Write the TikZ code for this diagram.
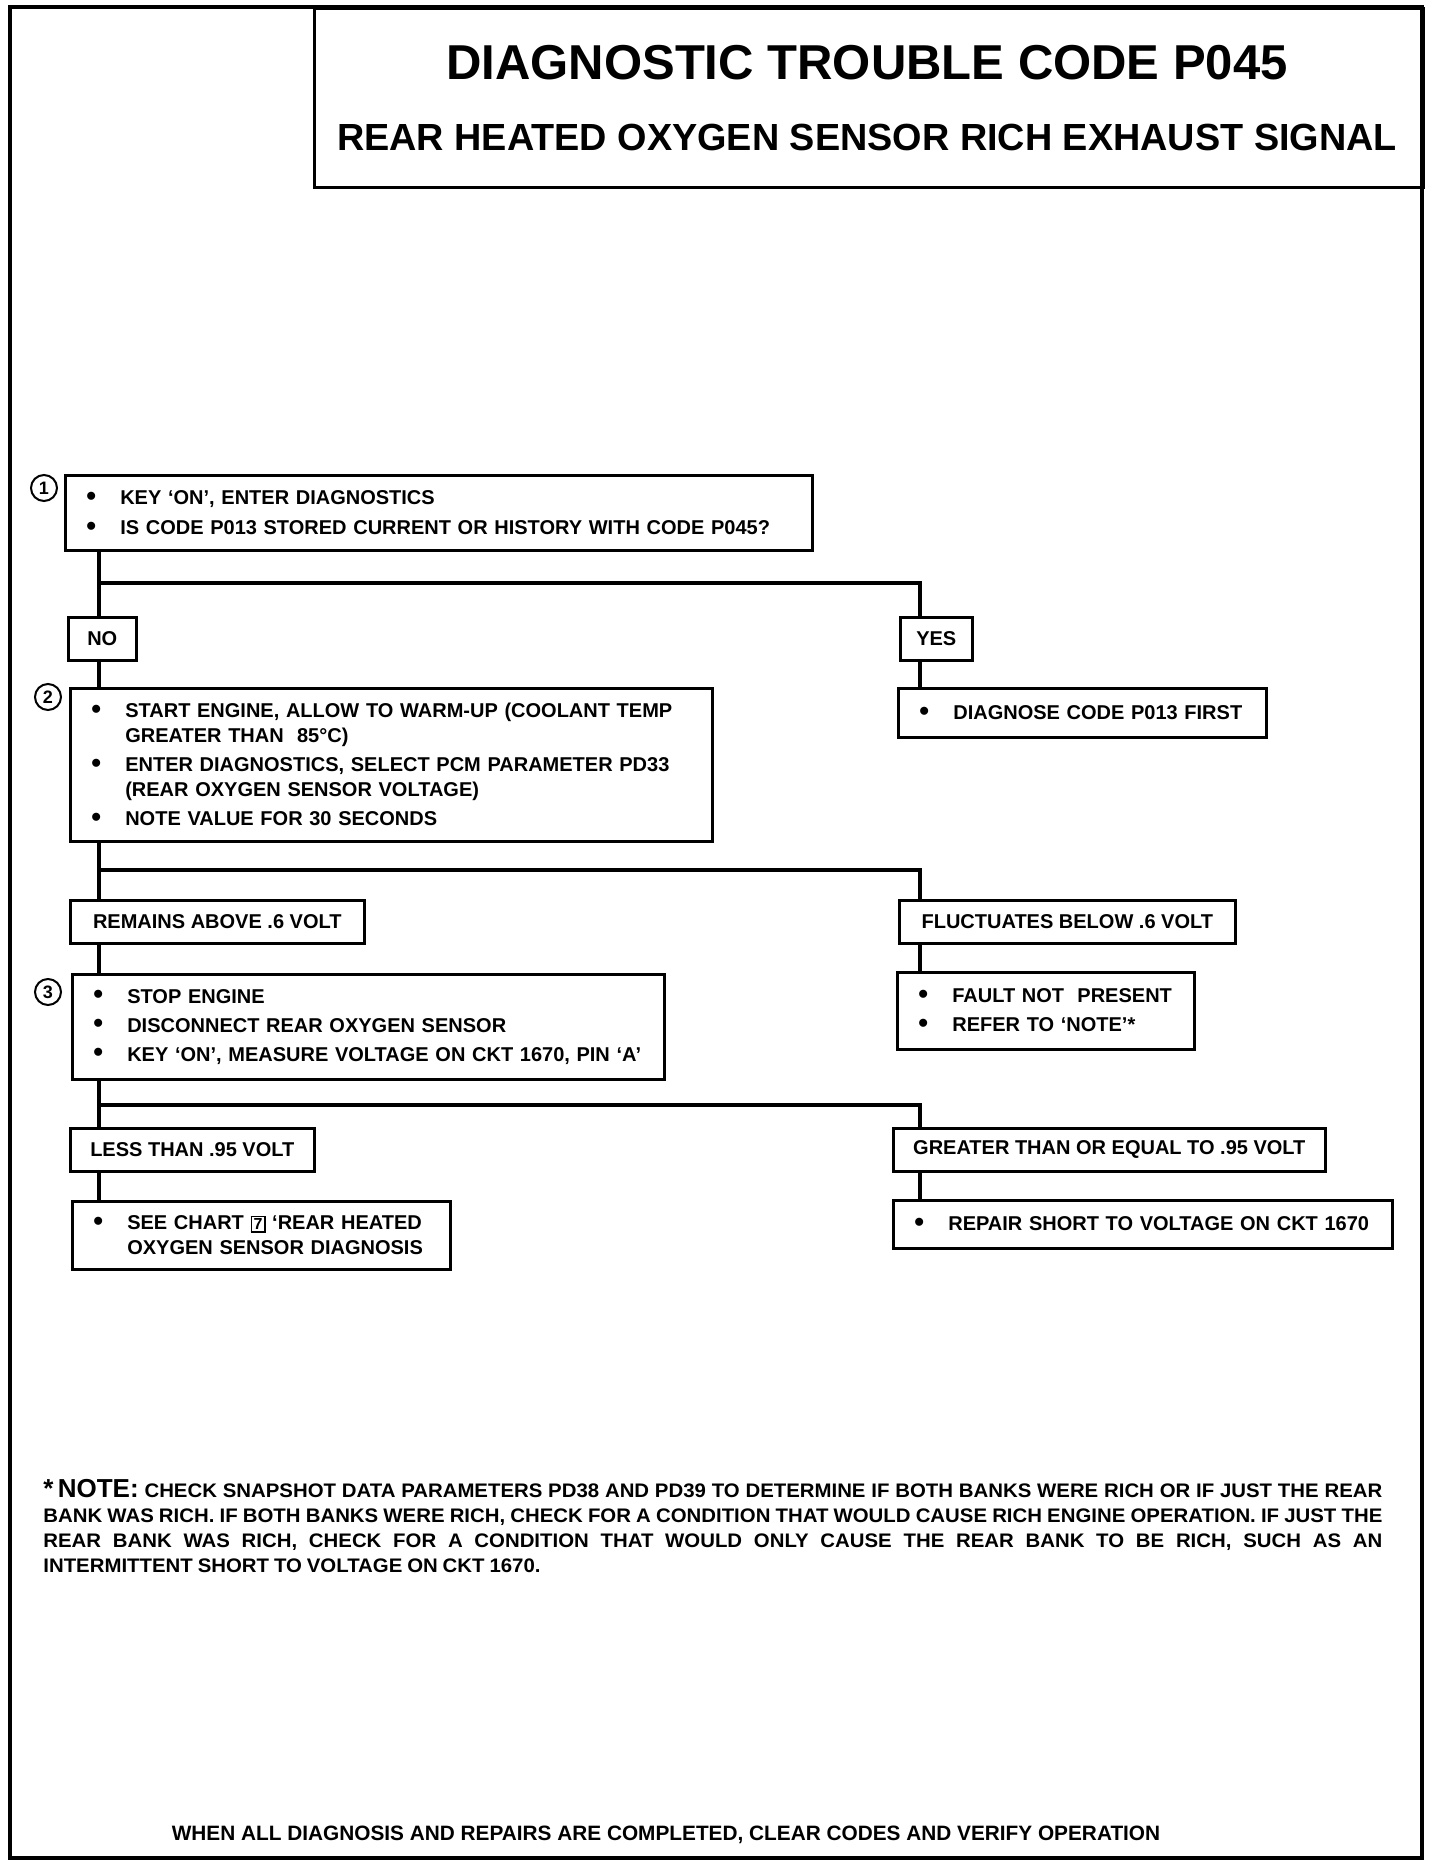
\documentclass[tikz,border=0pt]{standalone}
\usepackage{fontspec}
\setmainfont{Liberation Sans}
\newfontfamily\notefont{Liberation Sans}[FakeStretch=1.04]
\usetikzlibrary{positioning,calc}
\newcommand{\bul}{\makebox[17pt][l]{\raisebox{-0.3pt}{\fontsize{14}{10}\selectfont\textbullet}}}
\newcommand{\hang}{\hspace*{17pt}}
\newcommand{\chartref}[1]{{\setlength{\fboxsep}{0.8pt}\setlength{\fboxrule}{0.7pt}\fbox{\fontsize{8}{8}\selectfont #1}}}

\begin{document}
\begin{tikzpicture}[
  x=0.5pt, y=-0.5pt,
  font=\bfseries\fontsize{10}{12.5}\selectfont,
  frame/.style={line width=1.6pt},
  stepbox/.style={draw, line width=1.3pt, anchor=north west, align=left, inner xsep=10.5pt, inner ysep=0pt},
  lblbox/.style={draw, line width=1.3pt, anchor=north west, minimum height=21.5pt, inner sep=0pt, align=center},
  num/.style={draw, circle, line width=1pt, minimum size=13pt, inner sep=0pt, font=\bfseries\fontsize{9}{9}\selectfont},
  link/.style={line width=2.2pt}
]
\useasboundingbox (0,0) rectangle (1440,1868);
\draw[frame] (10,7) rectangle (1422,1858);

% header
\node[draw, frame, anchor=north west, minimum width=554.5pt, minimum height=89.5pt] (hdr) at (313,7) {};
\node[font=\bfseries\fontsize{24.5}{26}\selectfont] (title) at (867,63) {DIAGNOSTIC TROUBLE CODE P045};
\node[font=\bfseries\fontsize{18.9}{20}\selectfont] (subtitle) at (867,137) {REAR HEATED OXYGEN SENSOR RICH EXHAUST SIGNAL};

% step 1
\node[num] (n1) at (44,488) {1};
\node[stepbox, text width=352.5pt, minimum height=37.5pt] (chk1) at (64,474)
  {\bul KEY `ON', ENTER DIAGNOSTICS\\[2.5pt]
   \bul IS CODE P013 STORED CURRENT OR HISTORY WITH CODE P045?};
\node[lblbox, minimum width=34pt] (no) at (67,616) {NO};
\node[lblbox, minimum width=36pt] (yes) at (899,616) {YES};

% step 2
\node[num] (n2) at (48,697) {2};
\node[stepbox, text width=300pt, minimum height=76.5pt] (chk2) at (69,687)
  {\bul START ENGINE, ALLOW TO WARM-UP (COOLANT TEMP\\
   \hang GREATER THAN~~85°C)\\[2pt]
   \bul ENTER DIAGNOSTICS, SELECT PCM PARAMETER PD33\\
   \hang (REAR OXYGEN SENSOR VOLTAGE)\\[2pt]
   \bul NOTE VALUE FOR 30 SECONDS};
\node[stepbox, text width=163pt, minimum height=24.5pt] (diag) at (897,687)
  {\bul DIAGNOSE CODE P013 FIRST};
\node[lblbox, minimum width=147pt] (above) at (69,899) {REMAINS ABOVE .6 VOLT};
\node[lblbox, minimum width=168pt] (below) at (898,899) {FLUCTUATES BELOW .6 VOLT};

% step 3
\node[num] (n3) at (48,992) {3};
\node[stepbox, text width=275pt, minimum height=52.5pt] (chk3) at (71,973)
  {\bul STOP ENGINE\\[2pt]
   \bul DISCONNECT REAR OXYGEN SENSOR\\[2pt]
   \bul KEY `ON', MEASURE VOLTAGE ON CKT 1670, PIN `A'};
\node[stepbox, text width=127.5pt, minimum height=38.5pt] (fault) at (896,971)
  {\bul FAULT NOT~~PRESENT\\[2pt]
   \bul REFER TO `NOTE'*};
\node[lblbox, minimum width=122pt] (less) at (69,1127) {LESS THAN .95 VOLT};
\node[lblbox, minimum width=216pt] (geq) at (892,1127) {GREATER THAN OR EQUAL TO .95 VOLT};

% results
\node[stepbox, text width=168pt, minimum height=34pt] (chart) at (71,1200)
  {\bul SEE CHART \chartref{7} `REAR HEATED\\
   \hang OXYGEN SENSOR DIAGNOSIS};
\node[stepbox, text width=228.5pt, minimum height=24pt] (repair) at (892,1199)
  {\bul REPAIR SHORT TO VOLTAGE ON CKT 1670};

% connectors
\coordinate (lft) at (99,0);
\coordinate (rgt) at (920,0);
\coordinate (j1) at (99,583);
\coordinate (j2) at (99,870);
\coordinate (j3) at (99,1105);
\draw[link] (lft |- chk1.south) -- (lft |- no.north);
\draw[link] (j1) -| (rgt |- yes.north);
\draw[link] (lft |- no.south) -- (lft |- chk2.north);
\draw[link] (rgt |- yes.south) -- (rgt |- diag.north);
\draw[link] (lft |- chk2.south) -- (lft |- above.north);
\draw[link] (j2) -| (rgt |- below.north);
\draw[link] (lft |- above.south) -- (lft |- chk3.north);
\draw[link] (rgt |- below.south) -- (rgt |- fault.north);
\draw[link] (lft |- chk3.south) -- (lft |- less.north);
\draw[link] (j3) -| (rgt |- geq.north);
\draw[link] (lft |- less.south) -- (lft |- chart.north);
\draw[link] (rgt |- geq.south) -- (rgt |- repair.north);

% note and footer
\node[anchor=north west, inner sep=0pt, text width=669.5pt, align=justify,
  font=\notefont\bfseries\fontsize{9.8}{12.5}\selectfont] (note) at (43,1479)
  {\spaceskip=0.2em plus 3em minus 0.08em
   \hbox{\normalfont\bfseries\fontsize{13}{13}\selectfont *\,NOTE:} CHECK SNAPSHOT DATA PARAMETERS PD38 AND PD39 TO DETERMINE IF BOTH BANKS WERE RICH OR IF JUST THE REAR\linebreak
   BANK WAS RICH. IF BOTH BANKS WERE RICH, CHECK FOR A CONDITION THAT WOULD CAUSE RICH ENGINE OPERATION. IF JUST THE\linebreak
   REAR BANK WAS RICH, CHECK FOR A CONDITION THAT WOULD ONLY CAUSE THE REAR BANK TO BE RICH, SUCH AS AN\linebreak
   \spaceskip=0.25em plus 0.1em INTERMITTENT SHORT TO VOLTAGE ON CKT 1670.};
\node[font=\bfseries\fontsize{10.4}{12}\selectfont] (done) at (666,1835)
  {WHEN ALL DIAGNOSIS AND REPAIRS ARE COMPLETED, CLEAR CODES AND VERIFY OPERATION};
\end{tikzpicture}
\end{document}
